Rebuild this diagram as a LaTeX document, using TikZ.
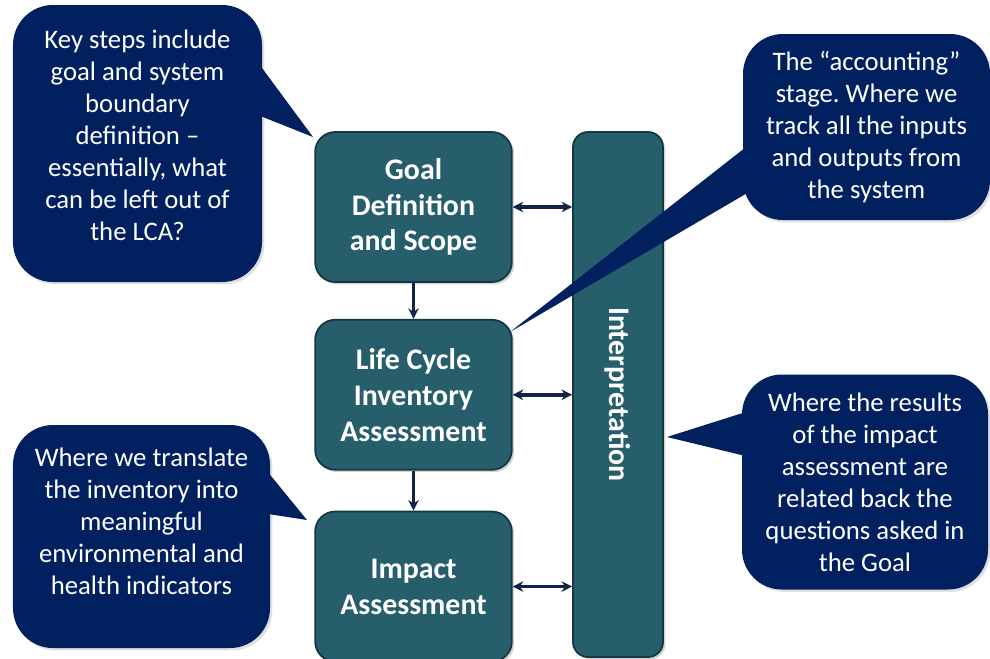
\documentclass[tikz,border=0pt]{standalone}
\usepackage{fontspec}
\setmainfont{Carlito}
\usetikzlibrary{positioning, calc, shadows, arrows.meta}
\definecolor{lcaTeal}{RGB}{38,94,108}
\definecolor{lcaTealDark}{RGB}{20,56,66}
\definecolor{lcaNavy}{RGB}{0,32,96}
\definecolor{lcaArrow}{RGB}{18,36,70}
\frenchspacing

\begin{document}
\begin{tikzpicture}[
  x=0.03cm, y=-0.03cm,
  >={Stealth[length=9pt, width=9pt]},
  stage/.style={draw=lcaTealDark, line width=1.5pt, fill=lcaTeal, rounded corners=0.6cm, minimum width=5.9cm, minimum height=4.5cm, align=center, text=white, font=\fontsize{25.5}{30.6}\selectfont\bfseries, drop shadow={opacity=0.35, shadow xshift=2pt, shadow yshift=-2pt}},
  note/.style={fill=lcaNavy, rounded corners=1.2cm, align=center, text=white, font=\fontsize{22.8}{27.3}\selectfont, inner sep=0pt, drop shadow={opacity=0.25, shadow xshift=2pt, shadow yshift=-2pt}},
  tail/.style={fill=lcaNavy},
  link/.style={draw=lcaArrow, line width=3pt},
  node distance=1.08cm
]
  \useasboundingbox (0,0) rectangle (990,658);

  % the three stages and the interpretation bar
  \node[stage] (goal) at (413.5,207) {Goal\\Definition\\and Scope};
  \node[stage, below=of goal] (lci) {Life Cycle\\Inventory\\Assessment};
  \node[stage, below=1.2cm of lci] (impact) {Impact\\Assessment};
  \node[stage, minimum width=2.7cm, minimum height=15.75cm, rounded corners=0.45cm] (interp) at (618,394.5) {\rotatebox{-90}{Interpretation}};

  \draw[link, <->] (goal.east) -- (goal.east -| interp.west);
  \draw[link, <->] (lci.east) -- (lci.east -| interp.west);
  \draw[link, <->] (impact.east) -- (impact.east -| interp.west);
  \draw[link, ->] (goal) -- (lci);
  \draw[link, ->] (lci) -- (impact);

  % callouts
  \node[note, minimum width=7.47cm, minimum height=8.31cm, text depth=0.5cm] (keyNote) at (137.5,143.5) {Key steps include\\goal and system\\boundary\\definition --\\essentially, what\\can be left out of\\the LCA?};
  \coordinate (keyTip) at (313,137);
  \fill[tail] ([xshift=-0.3cm, yshift=-1.5cm]keyNote.north east) -- (keyTip) -- ([xshift=-0.3cm, yshift=-3.24cm]keyNote.north east) -- cycle;

  \node[note, minimum width=7.41cm, minimum height=5.58cm] (acctNote) at (866.5,127) {The “accounting”\\stage. Where we\\track all the inputs\\and outputs from\\the system};
  \coordinate (acctTip) at (510,332);
  \fill[tail] ([xshift=0.3cm, yshift=-3.24cm]acctNote.north west) -- (acctTip) -- ([xshift=0.3cm, yshift=-4.68cm]acctNote.north west) -- cycle;

  \node[note, minimum width=7.38cm, minimum height=6.45cm] (resultNote) at (865,482) {Where the results\\of the impact\\assessment are\\related back the\\questions asked in\\the Goal};
  \coordinate (resultTip) at (667,437);
  \fill[tail] ([xshift=0.6cm, yshift=-0.98cm]resultNote.north west) -- (resultTip) -- ([xshift=0.6cm, yshift=-2.57cm]resultNote.north west) -- cycle;

  \node[note, minimum width=7.71cm, minimum height=6.69cm, text depth=0.9cm] (impactNote) at (141.5,536.5) {Where we translate\\the inventory into\\meaningful\\environmental and\\health indicators};
  \coordinate (impactTip) at (307,520);
  \fill[tail] ([xshift=-0.3cm, yshift=-1.14cm]impactNote.north east) -- (impactTip) -- ([xshift=-0.3cm, yshift=-2.64cm]impactNote.north east) -- cycle;
\end{tikzpicture}
\end{document}
